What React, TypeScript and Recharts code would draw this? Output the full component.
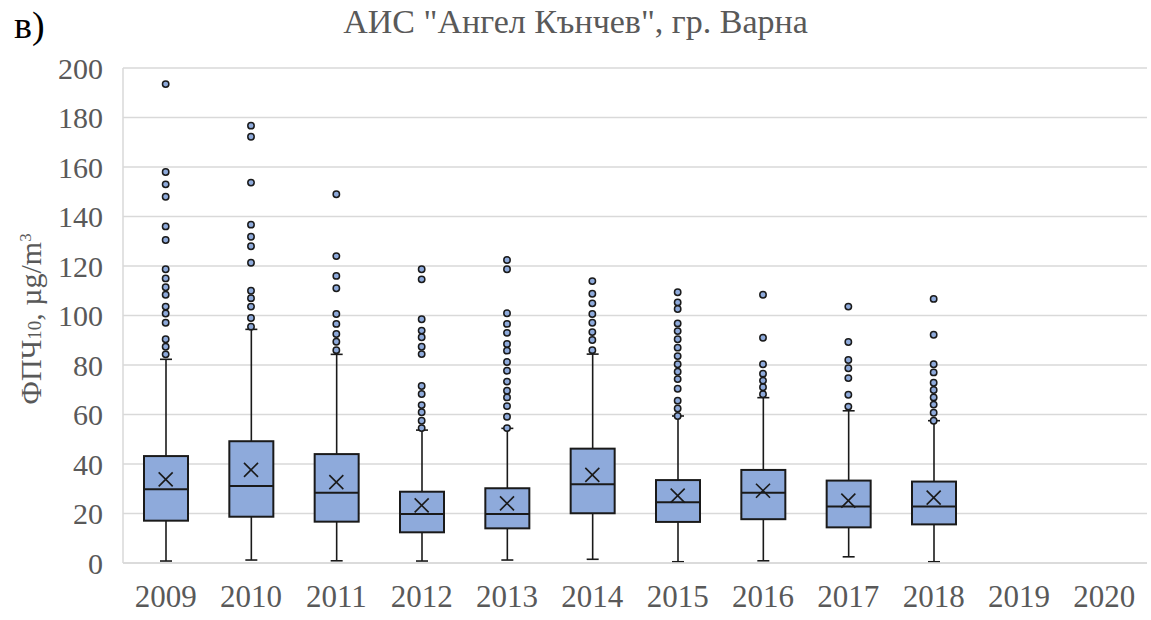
import React from "react";
import {
  ComposedChart,
  Bar,
  Line,
  XAxis,
  YAxis,
  CartesianGrid,
} from "recharts";

const years = ["2009", "2010", "2011", "2012", "2013", "2014", "2015", "2016", "2017", "2018", "2019", "2020"];

// box statistics per year (2019, 2020 have no data)
const whiskerLow = [0.8, 1.2, 0.9, 0.8, 1.2, 1.5, 0.5, 0.9, 2.5, 0.5];
const q1 = [17.1, 18.7, 16.7, 12.4, 14.0, 20.1, 16.6, 17.7, 14.4, 15.6];
const median = [29.8, 31.1, 28.4, 19.8, 19.8, 31.8, 24.5, 28.4, 22.8, 22.8];
const q3 = [43.2, 49.2, 44.0, 28.8, 30.2, 46.2, 33.5, 37.6, 33.3, 32.9];
const whiskerHigh = [82.3, 94.4, 84.3, 53.7, 54.4, 84.4, 59.4, 66.8, 61.5, 57.5];
const mean = [33.8, 37.6, 32.7, 23.3, 24.1, 35.6, 27.2, 29.2, 25.2, 26.4];

const outliers: number[][] = [
  [193.5, 158, 153, 148, 136, 130.5, 118.7, 115, 111.4, 108.4, 103.6, 100.8, 97.1, 90.4, 87.4, 84.3],
  [176.7, 172.2, 153.7, 136.7, 131.8, 128, 121.3, 110, 107, 103.6, 99, 95.5],
  [149, 124, 116, 111, 100.6, 96.6, 92.5, 89.4, 86],
  [118.7, 114.6, 98.5, 93.9, 91.2, 87.4, 84.4, 71.5, 68.3, 63.8, 60.9, 57.5, 54.5],
  [122.4, 118.7, 100.9, 96.6, 93, 88.5, 85.8, 81.2, 77.7, 73.3, 69.6, 66.9, 63.4, 59.1, 54.5],
  [113.9, 108.8, 104.9, 100.6, 97.1, 93.3, 90.1, 86],
  [109.4, 105.3, 102.6, 96.8, 93.7, 90.4, 87, 83.6, 80.3, 77.3, 74.3, 70.4, 65.6, 62.4, 59.4],
  [108.4, 91, 80.3, 76.5, 73.7, 71, 68.2],
  [103.6, 89.3, 82, 78.7, 74.7, 68, 63.2],
  [106.7, 92.2, 80.3, 77, 72.8, 69.9, 66.9, 64, 60.7, 57.5],
];

const yTicks = [0, 20, 40, 60, 80, 100, 120, 140, 160, 180, 200];

const FILL = "#8eaadb";
const EDGE = "#1a1a1a";
const GREY = "#595959";
const FONT = "'Liberation Serif', 'Times New Roman', serif";

const maxOut = Math.max(...outliers.map((o) => o.length));

const data = years.map((year, i) => {
  const row: any = { year };
  if (i < q1.length) {
    row.box = [whiskerLow[i], whiskerHigh[i]];
    row.lo = whiskerLow[i];
    row.hi = whiskerHigh[i];
    row.q1 = q1[i];
    row.med = median[i];
    row.q3 = q3[i];
    row.mean = mean[i];
    outliers[i].forEach((v, k) => {
      row[`o${k}`] = v;
    });
  }
  return row;
});

const BoxShape = (props: any) => {
  const { x, y, width, height, payload } = props;
  if (!payload || payload.q1 == null || !isFinite(height)) return <g />;
  const top = Math.min(y, y + height);
  const h = Math.abs(height);
  const k = h / (payload.hi - payload.lo);
  const yOf = (v: number) => top + (payload.hi - v) * k;
  const cx = x + width / 2;
  const cap = 6;
  return (
    <g>
      <line x1={cx} x2={cx} y1={yOf(payload.hi)} y2={yOf(payload.lo)} stroke={EDGE} strokeWidth={1.6} />
      <line x1={cx - cap} x2={cx + cap} y1={yOf(payload.hi)} y2={yOf(payload.hi)} stroke={EDGE} strokeWidth={1.6} />
      <line x1={cx - cap} x2={cx + cap} y1={yOf(payload.lo)} y2={yOf(payload.lo)} stroke={EDGE} strokeWidth={1.6} />
      <rect
        x={x}
        y={yOf(payload.q3)}
        width={width}
        height={yOf(payload.q1) - yOf(payload.q3)}
        fill={FILL}
        stroke={EDGE}
        strokeWidth={2}
      />
      <line x1={x} x2={x + width} y1={yOf(payload.med)} y2={yOf(payload.med)} stroke={EDGE} strokeWidth={2} />
    </g>
  );
};

const MeanDot = (props: any) => {
  const { cx, cy, value, index } = props;
  if (value == null || cy == null) return <g key={`m${index}`} />;
  const s = 7;
  return (
    <g key={`m${index}`}>
      <line x1={cx - s} y1={cy - s} x2={cx + s} y2={cy + s} stroke={EDGE} strokeWidth={1.6} />
      <line x1={cx - s} y1={cy + s} x2={cx + s} y2={cy - s} stroke={EDGE} strokeWidth={1.6} />
    </g>
  );
};

const OutDot = (props: any) => {
  const { cx, cy, value, index, dataKey } = props;
  if (value == null || cy == null) return <g key={`${dataKey}-${index}`} />;
  return <circle key={`${dataKey}-${index}`} cx={cx} cy={cy} r={3.2} fill={FILL} stroke={EDGE} strokeWidth={1.5} />;
};

export default function App() {
  return (
    <div style={{ position: "absolute", left: 0, top: 0, width: 1151, height: 620, background: "#fff", fontFamily: FONT }}>
      <div style={{ position: "absolute", left: 14, top: 6, fontSize: 38, lineHeight: 1, color: "#000" }}>в)</div>
      <div
        style={{
          position: "absolute",
          left: 0,
          width: 1151,
          top: 5,
          textAlign: "center",
          fontSize: 34,
          lineHeight: 1,
          color: GREY,
        }}
      >
        АИС "Ангел Кънчев", гр. Варна
      </div>
      <div
        style={{
          position: "absolute",
          left: 31,
          top: 319,
          transform: "translate(-50%, -50%) rotate(-90deg)",
          whiteSpace: "nowrap",
          fontSize: 30,
          lineHeight: 1,
          color: GREY,
        }}
      >
        ФПЧ<span style={{ fontSize: 19 }}>10</span>, µg/m<sup style={{ fontSize: 17, verticalAlign: "10px", lineHeight: 0 }}>3</sup>
      </div>
      <ComposedChart
        width={1151}
        height={620}
        data={data}
        margin={{ top: 68, right: 4, bottom: 0, left: 0 }}
        barSize={44}
      >
        <CartesianGrid vertical={false} stroke="#d9d9d9" strokeWidth={1.5} />
        <XAxis
          dataKey="year"
          type="category"
          height={57}
          axisLine={{ stroke: "#d9d9d9", strokeWidth: 1.5 }}
          tickLine={false}
          tickSize={0}
          tickMargin={22}
          interval={0}
          tick={{ fill: GREY, fontSize: 31, fontFamily: FONT }}
        />
        <YAxis
          type="number"
          domain={[0, 200]}
          ticks={yTicks}
          width={123}
          axisLine={{ stroke: "#d9d9d9", strokeWidth: 1.5 }}
          tickLine={false}
          tickSize={0}
          tickMargin={20}
          interval={0}
          tick={{ fill: GREY, fontSize: 30, fontFamily: FONT }}
        />
        <Bar dataKey="box" shape={BoxShape} isAnimationActive={false} legendType="none" />
        <Line
          dataKey="mean"
          stroke="none"
          dot={MeanDot}
          activeDot={false}
          isAnimationActive={false}
          legendType="none"
        />
        {Array.from({ length: maxOut }, (_, k) => (
          <Line
            key={`o${k}`}
            dataKey={`o${k}`}
            stroke="none"
            dot={OutDot}
            activeDot={false}
            isAnimationActive={false}
            legendType="none"
          />
        ))}
      </ComposedChart>
    </div>
  );
}
